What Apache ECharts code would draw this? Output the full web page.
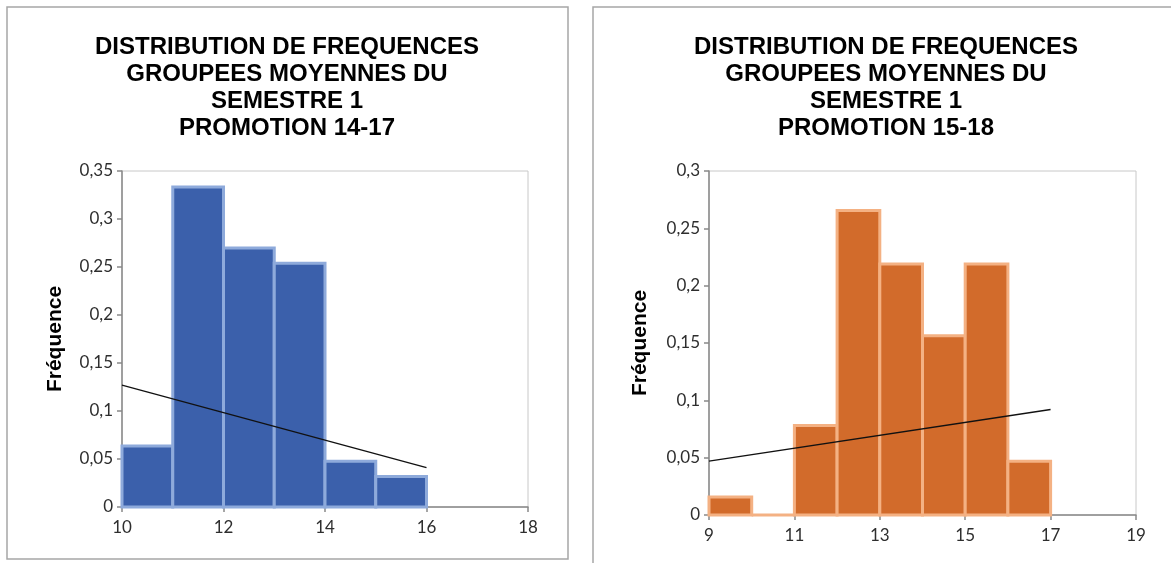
<!DOCTYPE html>
<html>
<head>
<meta charset="utf-8">
<script src="https://cdn.jsdelivr.net/npm/echarts@6/dist/echarts.min.js"></script>
<style>
html,body{margin:0;padding:0;background:#fff;}
#c{width:1171px;height:563px;}
</style>
</head>
<body>
<div id="c"></div>
<script>
// ---- data ----
const titleL = "DISTRIBUTION DE FREQUENCES\nGROUPEES MOYENNES DU\nSEMESTRE 1\nPROMOTION 14-17";
const titleR = "DISTRIBUTION DE FREQUENCES\nGROUPEES MOYENNES DU\nSEMESTRE 1\nPROMOTION 15-18";
const yName = "Fréquence";
const binEdgesL = [10, 11, 12, 13, 14, 15, 16];
const freqL = [0.0635, 0.3333, 0.2698, 0.2540, 0.0476, 0.0317];
const binEdgesR = [9, 10, 11, 12, 13, 14, 15, 16, 17];
const freqR = [0.0156, 0, 0.0781, 0.2656, 0.2188, 0.1563, 0.2188, 0.0469];
const trendL = [[10, 0.127], [16, 0.041]];
const trendR = [[9, 0.047], [17, 0.092]];

function toBins(edges, freq) {
  return freq.map((f, i) => [edges[i], edges[i + 1], f]);
}

const labelFont = { fontFamily: 'Lato', fontSize: 17, color: '#2e2e2e' };
const fmt = v => String(+v.toFixed(2)).replace('.', ',');

function histRender(fill, stroke) {
  return function (params, api) {
    const p0 = api.coord([api.value(0), api.value(2)]);
    const p1 = api.coord([api.value(1), 0]);
    return {
      type: 'rect',
      shape: { x: p0[0], y: p0[1], width: p1[0] - p0[0], height: p1[1] - p0[1] },
      style: { fill: fill, stroke: stroke, lineWidth: 3 }
    };
  };
}

function xAxisCfg(gi, min, max) {
  return {
    type: 'value', gridIndex: gi, min: min, max: max, interval: 2,
    splitLine: { show: false },
    axisLine: { show: true, lineStyle: { color: '#898989', width: 1.5 } },
    axisTick: { show: true, length: 5, lineStyle: { color: '#898989', width: 1.5 } },
    axisLabel: Object.assign({ margin: 12 }, labelFont)
  };
}
function yAxisCfg(gi, max, gap) {
  return {
    type: 'value', gridIndex: gi, min: 0, max: max, interval: 0.05,
    name: yName, nameLocation: 'middle', nameRotate: 90, nameGap: gap,
    nameTextStyle: { fontFamily: 'Liberation Sans', fontWeight: 'bold', fontSize: 21, color: '#000' },
    splitLine: { show: false },
    axisLine: { show: true, lineStyle: { color: '#898989', width: 1.5 } },
    axisTick: { show: true, length: 5, lineStyle: { color: '#898989', width: 1.5 } },
    axisLabel: Object.assign({ margin: 9, formatter: fmt }, labelFont)
  };
}

const titleStyle = { fontFamily: 'Liberation Sans', fontWeight: 'bold', fontSize: 24, lineHeight: 27, color: '#000' };

const chart = echarts.init(document.getElementById('c'), null, { renderer: 'canvas' });
chart.setOption({
  animation: false,
  backgroundColor: '#fff',
  graphic: [
    { type: 'rect', shape: { x: 7, y: 7, width: 561, height: 552 }, style: { fill: null, stroke: '#a6a6a6', lineWidth: 1.5 }, z: 0 },
    { type: 'rect', shape: { x: 593, y: 7, width: 600, height: 600 }, style: { fill: null, stroke: '#a6a6a6', lineWidth: 1.5 }, z: 0 }
  ],
  title: [
    { text: titleL, left: 287, top: 34, padding: 0, textAlign: 'center', textStyle: titleStyle },
    { text: titleR, left: 886, top: 34, padding: 0, textAlign: 'center', textStyle: titleStyle }
  ],
  grid: [
    { left: 122, top: 171, width: 406, height: 336, show: true, borderColor: '#c8c8c8', borderWidth: 1, backgroundColor: 'transparent' },
    { left: 709, top: 171, width: 427, height: 344, show: true, borderColor: '#c8c8c8', borderWidth: 1, backgroundColor: 'transparent' }
  ],
  xAxis: [xAxisCfg(0, 10, 18), xAxisCfg(1, 9, 19)],
  yAxis: [yAxisCfg(0, 0.35, 56), yAxisCfg(1, 0.3, 58)],
  series: [
    { type: 'custom', xAxisIndex: 0, yAxisIndex: 0, data: toBins(binEdgesL, freqL),
      encode: { x: [0, 1], y: 2 }, renderItem: histRender('#3b60ab', '#8eaadb'), clip: false },
    { type: 'line', xAxisIndex: 0, yAxisIndex: 0, data: trendL, symbol: 'none',
      lineStyle: { color: '#111', width: 1.3 }, z: 5 },
    { type: 'custom', xAxisIndex: 1, yAxisIndex: 1, data: toBins(binEdgesR, freqR),
      encode: { x: [0, 1], y: 2 }, renderItem: histRender('#d26b2b', '#f4b183'), clip: false },
    { type: 'line', xAxisIndex: 1, yAxisIndex: 1, data: trendR, symbol: 'none',
      lineStyle: { color: '#111', width: 1.3 }, z: 5 }
  ]
});
</script>
</body>
</html>
